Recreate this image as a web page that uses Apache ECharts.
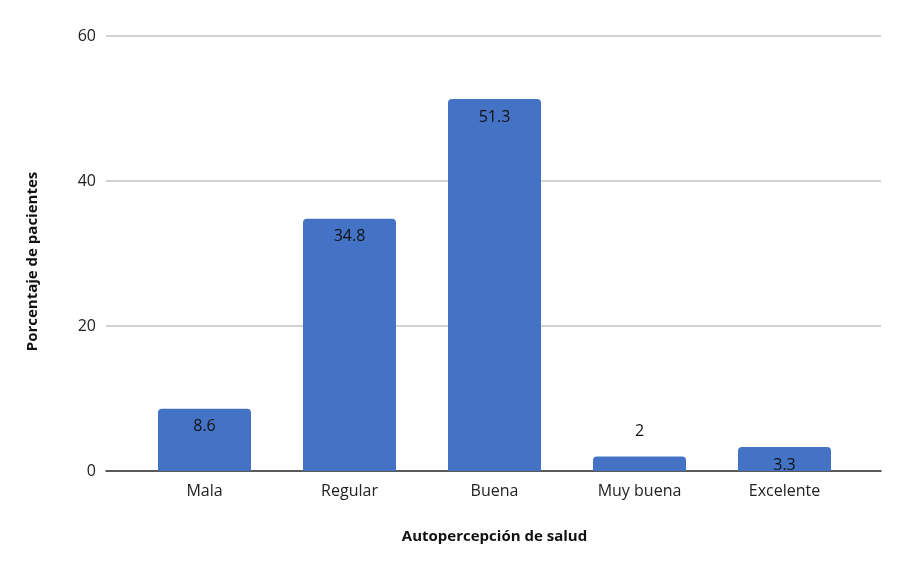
<!DOCTYPE html>
<html lang="es">
<head>
<meta charset="utf-8">
<title>Autopercepción de salud</title>
<script src="https://cdn.jsdelivr.net/npm/echarts@6/dist/echarts.min.js"></script>
<style>
    html, body { margin: 0; padding: 0; background: #fff; }
    #chart { width: 908px; height: 572px; }
</style>
</head>
<body>
<div id="chart"></div>
<script>
    // datos
    var categorias = ['Mala', 'Regular', 'Buena', 'Muy buena', 'Excelente'];
    var porcentajes = [8.6, 34.8, 51.3, 2, 3.3];
    var ticksY = [0, 20, 40, 60];

    var fuente = 'Open Sans';
    var azul = '#4472c4';

    // barras muy bajas: la etiqueta va encima
    var datos = porcentajes.map(function (v) {
        if (v < 3) {
            return { value: v, label: { position: 'top', distance: 17 } };
        }
        return v;
    });

    var chart = echarts.init(document.getElementById('chart'));
    chart.setOption({
        backgroundColor: '#fff',
        textStyle: { fontFamily: fuente },
        grid: [
            // rejilla ancha: líneas guía y eje Y
            { left: 106, right: 27, top: 36, bottom: 101 },
            // rejilla de las barras
            { left: 132, right: 51, top: 36, bottom: 101 }
        ],
        xAxis: [
            {
                gridIndex: 0, type: 'value', min: 0, max: 1,
                axisLine: { show: true, onZero: false, lineStyle: { color: '#333', width: 1.5 } },
                axisTick: { show: false }, axisLabel: { show: false }, splitLine: { show: false }
            },
            {
                gridIndex: 1, type: 'category', data: categorias,
                axisLine: { show: false }, axisTick: { show: false },
                axisLabel: { color: '#222', fontSize: 16, margin: 12, fontFamily: fuente },
                name: 'Autopercepción de salud', nameLocation: 'middle', nameGap: 58,
                nameTextStyle: { color: '#111', fontSize: 15, fontWeight: 'bold', fontFamily: fuente }
            }
        ],
        yAxis: [
            {
                gridIndex: 0, type: 'value', min: ticksY[0], max: ticksY[ticksY.length - 1], interval: 20,
                axisLine: { show: false }, axisTick: { show: false },
                axisLabel: { color: '#222', fontSize: 16, margin: 10, fontFamily: fuente },
                splitLine: { lineStyle: { color: '#c3c3c3', width: 1.5 } },
                name: 'Porcentaje de pacientes', nameLocation: 'middle', nameGap: 66,
                nameTextStyle: {
                    color: '#111', fontSize: 15, fontWeight: 'bold', fontFamily: fuente,
                    padding: [0, 16, 0, 0]
                }
            },
            {
                gridIndex: 1, type: 'value', min: 0, max: 60, interval: 20, show: false
            }
        ],
        series: [
            {
                type: 'bar',
                xAxisIndex: 1, yAxisIndex: 1,
                data: datos,
                barWidth: 93,
                itemStyle: { color: azul, borderRadius: [4, 4, 0, 0] },
                label: {
                    show: true, position: 'insideTop', distance: 10,
                    color: '#111', fontSize: 16, fontFamily: fuente
                },
                z: 3
            }
        ]
    });
</script>
</body>
</html>
